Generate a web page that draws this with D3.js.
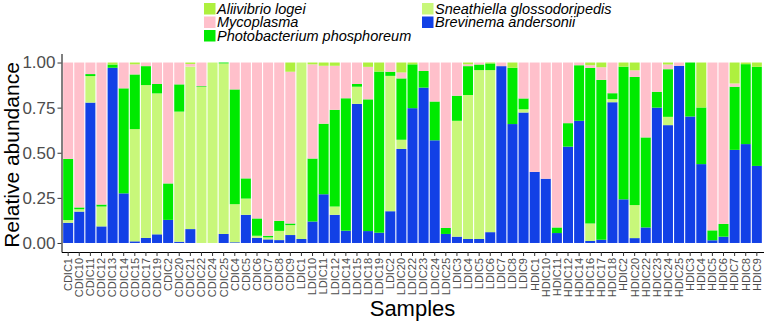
<!DOCTYPE html>
<html>
<head>
<meta charset="utf-8">
<script src="https://cdn.jsdelivr.net/npm/d3@7"></script>
<style>
  body { margin: 0; background: #fff; }
  svg { display: block; font-family: "Liberation Sans", Arial, sans-serif; }
</style>
</head>
<body>
<svg width="766" height="324"></svg>
<script>
// Sample names in plotting order
const samples = ["CDIC1","CDIC10","CDIC11","CDIC12","CDIC13","CDIC14","CDIC15","CDIC17","CDIC19","CDIC2","CDIC20","CDIC21","CDIC22","CDIC24","CDIC25","CDIC4","CDIC5","CDIC6","CDIC7","CDIC8","CDIC9",
  "LDIC1","LDIC10","LDIC11","LDIC12","LDIC14","LDIC15","LDIC18","LDIC19","LDIC2","LDIC20","LDIC22","LDIC23","LDIC24","LDIC25","LDIC3","LDIC4","LDIC5","LDIC6","LDIC7","LDIC8","LDIC9",
  "HDIC1","HDIC10","HDIC11","HDIC12","HDIC14","HDIC16","HDIC17","HDIC18","HDIC2","HDIC20","HDIC22","HDIC23","HDIC24","HDIC25","HDIC3","HDIC4","HDIC5","HDIC6","HDIC7","HDIC8","HDIC9"];

// Relative abundance per taxon (same order as samples)
const brevinema = [0.112,0.174,0.778,0.092,0.971,0.275,0.009,0.028,0.048,0.128,0.007,0.077,0,0,0.050,0.004,0.156,0.029,0.020,0.016,0.044,
  0.022,0.119,0.270,0.156,0.068,0.771,0.066,0.057,0.176,0.521,0.747,0.861,0.569,0.050,0.035,0.022,0.022,0.060,0.980,0.659,0.723,
  0.394,0.356,0.055,0.534,0.677,0.011,0.018,0.780,0.242,0.027,0.086,0.750,0.653,0.982,0.701,0.437,0.015,0.035,0.516,0.548,0.427];
const sneathiella = [0.015,0.013,0.147,0.110,0,0,0.622,0.847,0.781,0,0.721,0.900,0.865,1.000,0.945,0.211,0.090,0.011,0.011,0.051,0.055,
  0.978,0,0,0.046,0,0.095,0,0,0.750,0.051,0,0,0,0,0.642,0.798,0.936,0.898,0,0,0.018,
  0,0,0,0,0,0.097,0,0.017,0,0.183,0,0,0.046,0,0,0,0,0,0,0,0];
const photobacterium = [0.339,0.010,0.011,0.011,0.018,0.582,0.303,0.105,0.052,0.202,0.151,0,0.004,0,0.005,0.636,0.112,0.096,0.009,0.055,0.009,
  0,0.349,0.391,0.536,0.734,0.015,0.730,0.893,0.023,0.340,0.243,0.092,0.215,0.033,0.139,0.160,0.031,0.037,0,0.312,0.060,
  0,0,0.031,0.130,0.308,0.862,0.886,0.033,0.735,0.710,0.499,0.088,0.264,0,0.299,0.314,0.055,0.071,0.350,0.443,0.549];
const mycoplasma = [0.534,0.803,0.064,0.787,0,0.143,0.056,0.020,0.119,0.670,0.121,0.015,0.131,0,0,0.149,0.642,0.864,0.960,0.878,0.841,
  0,0.522,0.321,0.244,0.198,0.119,0.180,0,0.051,0.033,0,0.047,0.216,0.917,0.184,0.010,0.011,0,0.020,0,0.199,
  0.606,0.644,0.914,0.336,0.015,0.015,0.070,0.170,0,0.037,0.415,0.162,0.026,0.018,0,0,0.930,0.894,0.018,0,0];
const aliivibrio = [0,0,0,0,0.011,0,0.010,0,0,0,0,0.008,0,0,0,0,0,0,0,0,0.051,
  0,0.010,0.018,0.018,0,0,0.024,0.050,0,0.055,0.010,0,0,0,0,0.010,0,0.005,0,0.029,0,
  0,0,0,0,0,0.015,0.026,0,0.023,0.043,0,0,0.011,0,0,0.249,0,0,0.116,0.009,0.024];

// Stack order bottom -> top
const keys = ["Brevinema andersonii","Sneathiella glossodoripedis","Photobacterium phosphoreum","Mycoplasma","Aliivibrio logei"];
const seriesValues = [brevinema, sneathiella, photobacterium, mycoplasma, aliivibrio];
const legendOrder = ["Aliivibrio logei","Mycoplasma","Photobacterium phosphoreum","Sneathiella glossodoripedis","Brevinema andersonii"];

const yTicks = [0, 0.25, 0.5, 0.75, 1];

const color = d3.scaleOrdinal()
    .domain(keys)
    .range(["#1240e6", "#c8f77a", "#00ea00", "#ffc0cb", "#aef03e"]);

const rows = samples.map((s, i) => {
  const r = {sample: s};
  keys.forEach((k, j) => r[k] = seriesValues[j][i]);
  return r;
});

const svg = d3.select("svg");

const x = d3.scaleBand()
    .domain(samples)
    .range([61.5, 763.5])
    .paddingInner(0.1)
    .paddingOuter(0.15);

const y = d3.scaleLinear()
    .domain([-0.05, 1.05])
    .range([252, 53.5]);

const stacked = d3.stack().keys(keys)(rows);

// bars
svg.append("g")
  .selectAll("g")
  .data(stacked)
  .join("g")
    .attr("fill", d => color(d.key))
  .selectAll("rect")
  .data(d => d)
  .join("rect")
    .attr("x", d => x(d.data.sample))
    .attr("width", x.bandwidth())
    .attr("y", d => y(d[1]))
    .attr("height", d => y(d[0]) - y(d[1]));

// axes
const xAxis = svg.append("g")
    .attr("transform", "translate(0,252)")
    .call(d3.axisBottom(x).tickSize(4).tickSizeOuter(0));
xAxis.select(".domain").attr("stroke", "#000");
xAxis.selectAll(".tick line").attr("stroke", "#333");
xAxis.selectAll("text")
    .attr("transform", "rotate(-90)")
    .attr("x", -6)
    .attr("y", 0)
    .attr("dy", "0.35em")
    .attr("fill", "#4d4d4d")
    .style("text-anchor", "end")
    .style("font-size", "11px")
    .style("font-family", "Liberation Sans, Arial, sans-serif");

const yAxis = svg.append("g")
    .attr("transform", "translate(61.5,0)")
    .call(d3.axisLeft(y).tickValues(yTicks).tickFormat(d3.format(".2f")).tickSize(4).tickSizeOuter(0));
yAxis.select(".domain").attr("stroke", "#000");
yAxis.selectAll(".tick line").attr("stroke", "#333");
yAxis.selectAll("text")
    .attr("x", -6)
    .attr("fill", "#4d4d4d")
    .style("font-size", "17px")
    .style("font-family", "Liberation Sans, Arial, sans-serif");

// axis titles
svg.append("text")
    .attr("x", 412.5)
    .attr("y", 316)
    .style("text-anchor", "middle")
    .style("font-size", "22px")
    .text("Samples");

svg.append("text")
    .attr("transform", "translate(19,155) rotate(-90)")
    .style("text-anchor", "middle")
    .style("font-size", "21px")
    .text("Relative abundance");

// legend, two columns filled top to bottom
const legend = svg.append("g");
const item = legend.selectAll("g")
  .data(legendOrder)
  .join("g")
    .attr("transform", (d, i) => `translate(${i < 3 ? 204 : 422},${3 + (i % 3) * 13.5})`);
item.append("rect")
    .attr("width", 11.5)
    .attr("height", 11.5)
    .attr("fill", d => color(d));
item.append("text")
    .attr("x", 13)
    .attr("y", 10.5)
    .style("font-size", "14.5px")
    .style("font-style", "italic")
    .text(d => d);
</script>
</body>
</html>
